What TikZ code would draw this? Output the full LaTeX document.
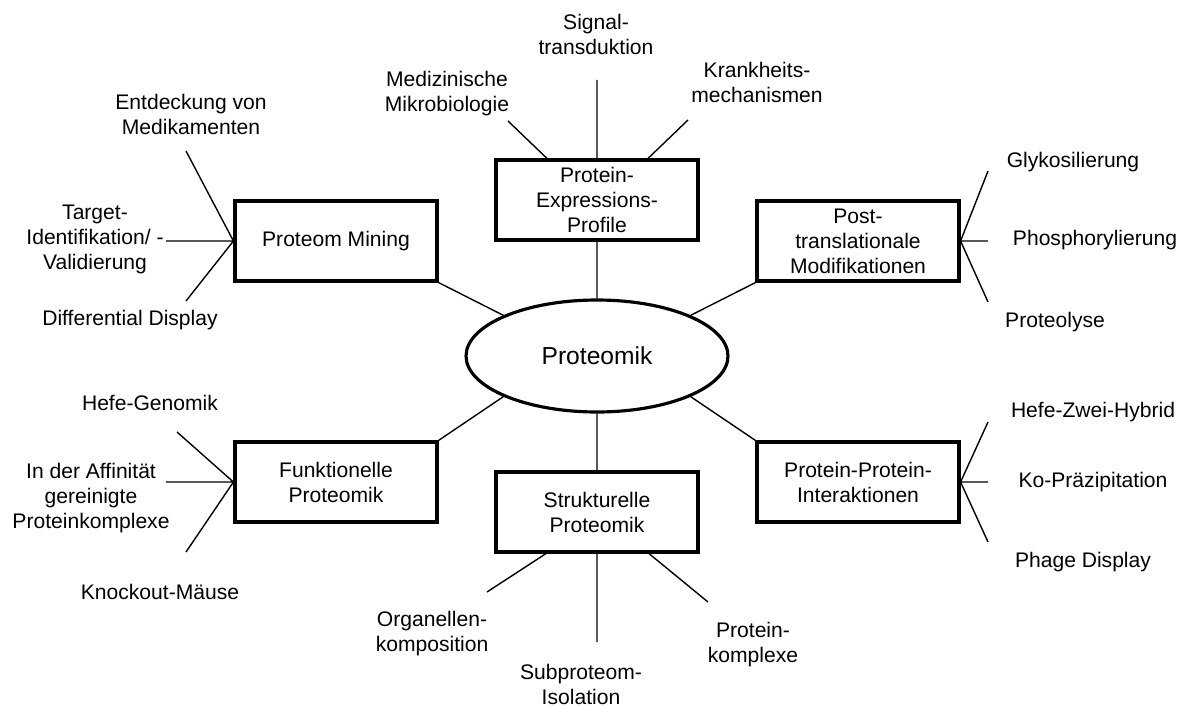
\documentclass[tikz,border=0pt]{standalone}
\usepackage{fontspec}
\setmainfont{Liberation Sans}
\usepackage{tikz}
\usetikzlibrary{calc,shapes.geometric}

\tikzset{
    box/.style={draw, line width=1.8pt, minimum width=4.04cm, minimum height=1.6cm, align=center, inner sep=0pt, font=\fontsize{12}{14.2}\selectfont},
    hub/.style={draw, ellipse, line width=1.8pt, minimum width=5.24cm, minimum height=2.24cm, inner sep=0pt, font=\fontsize{14}{16}\selectfont},
    leaf/.style={align=center, inner sep=0pt, font=\fontsize{12}{14.2}\selectfont},
    twig/.style={line width=0.8pt}
}

\begin{document}
\begin{tikzpicture}[x=0.02cm, y=-0.02cm]
        \useasboundingbox (0,0) rectangle (1186,706);
        \node[hub] (prot) at (597,356) {Proteomik};
        \node[box] (pm) at (336,241) {Proteom Mining};
        \node[box] (pep) at (597,200) {Protein-\\Expressions-\\Profile};
        \node[box] (ptm) at (858,241) {Post-\\translationale\\Modifikationen};
        \node[box] (fp) at (336,482) {Funktionelle\\Proteomik};
        \node[box] (ppi) at (858,482) {Protein-Protein-\\Interaktionen};
        \node[box] (sp) at (597,512) {Strukturelle\\Proteomik};
        \draw[twig]
        (pm.south east) to (prot.north west)
        (ptm.south west) to (prot.north east)
        (fp.north east) to (prot.south west)
        (ppi.north west) to (prot.south east)
        (pep.south) to (prot.north)
        (sp.north) to (prot.south);
        % Proteom Mining
        \node[leaf] (pm1) at (191,114) {Entdeckung von\\Medikamenten};
        \node[leaf] (pm2) at (95,239) {Target-\\Identifikation/ -\\Validierung};
        \node[leaf] (pm3) at (130,320) {Differential Display};
        \coordinate (a1) at (186,151);
        \coordinate (a2) at (166,241);
        \coordinate (a3) at (186,301);
        \draw[twig] (pm.west) to (a1) (pm.west) to (a2) (pm.west) to (a3);
        % Expressions-Profile
        \node[leaf] (pep1) at (447,94) {Medizinische\\Mikrobiologie};
        \node[leaf] (pep2) at (596,34) {Signal-\\transduktion};
        \node[leaf] (pep3) at (757,82) {Krankheits-\\mechanismen};
        \coordinate (b1) at (508,121);
        \coordinate (b2) at (597,80);
        \coordinate (b3) at (688,120);
        \draw[twig]
        ($(pep.north)+(-50,0)$) to (b1)
        (pep.north) to (b2)
        ($(pep.north)+(51,0)$) to (b3);
        % Modifikationen
        \node[leaf] (ptm1) at (1073,162) {Glykosilierung};
        \node[leaf] (ptm2) at (1095,240) {Phosphorylierung};
        \node[leaf] (ptm3) at (1055,322) {Proteolyse};
        \coordinate (c1) at (988,171);
        \coordinate (c2) at (988,241);
        \coordinate (c3) at (988,302);
        \draw[twig] (ptm.east) to (c1) (ptm.east) to (c2) (ptm.east) to (c3);
        % Funktionelle Proteomik
        \node[leaf] (fp1) at (150,403) {Hefe-Genomik};
        \node[leaf] (fp2) at (91,498) {In der Affinität\\gereinigte\\Proteinkomplexe};
        \node[leaf] (fp3) at (160,592) {Knockout-Mäuse};
        \coordinate (d1) at (177,432);
        \coordinate (d2) at (166,482);
        \coordinate (d3) at (186,552);
        \draw[twig] (fp.west) to (d1) (fp.west) to (d2) (fp.west) to (d3);
        % Interaktionen
        \node[leaf] (ppi1) at (1093,412) {Hefe-Zwei-Hybrid};
        \node[leaf] (ppi2) at (1093,482) {Ko-Präzipitation};
        \node[leaf] (ppi3) at (1083,562) {Phage Display};
        \coordinate (e1) at (988,422);
        \coordinate (e2) at (988,482);
        \coordinate (e3) at (988,542);
        \draw[twig] (ppi.east) to (e1) (ppi.east) to (e2) (ppi.east) to (e3);
        % Strukturelle Proteomik
        \node[leaf] (sp1) at (432,634) {Organellen-\\komposition};
        \node[leaf] (sp2) at (581,684) {Subproteom-\\Isolation};
        \node[leaf] (sp3) at (753,645) {Protein-\\komplexe};
        \coordinate (f1) at (487,592);
        \coordinate (f2) at (597,642);
        \coordinate (f3) at (708,602);
        \draw[twig]
        ($(sp.south)+(-51,0)$) to (f1)
        (sp.south) to (f2)
        ($(sp.south)+(52,0)$) to (f3);
    \end{tikzpicture}
\end{document}
